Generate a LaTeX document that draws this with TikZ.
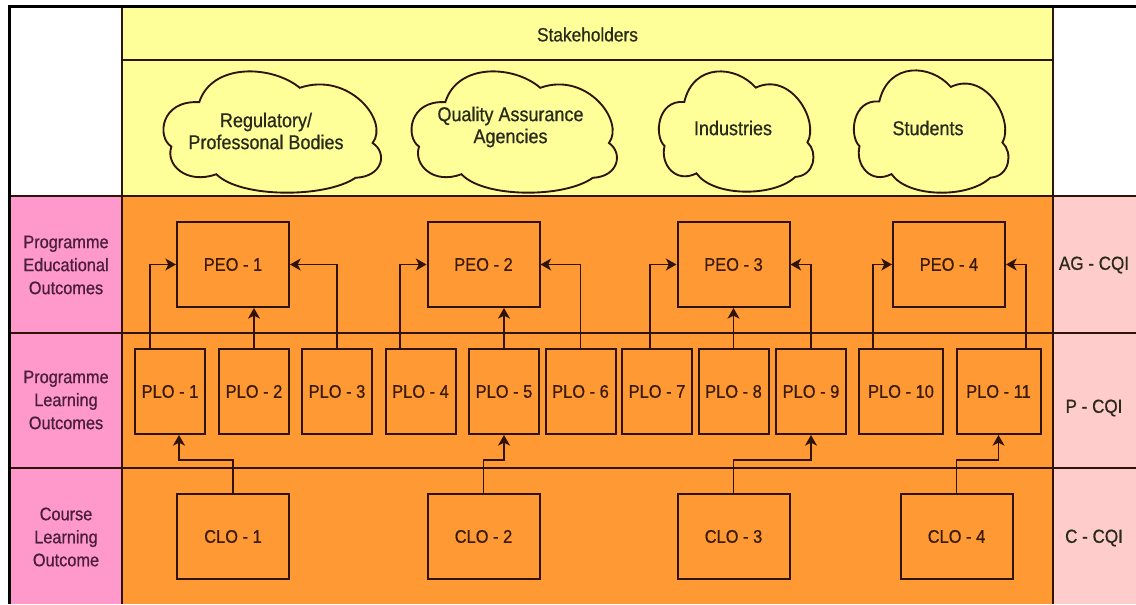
\documentclass[tikz,border=0pt]{standalone}
\usepackage{fontspec}
\setmainfont{Liberation Sans}[FakeStretch=0.9,FakeBold=0.7]
\usetikzlibrary{arrows.meta}
\definecolor{yel}{HTML}{FFFF99}
\definecolor{org}{HTML}{FF9933}
\definecolor{pinkL}{HTML}{FF99CC}
\definecolor{pinkR}{HTML}{FFCCCC}
\definecolor{ink}{HTML}{2E1306}
\definecolor{txt}{HTML}{3A1A08}
\definecolor{txtL}{HTML}{4A1E3C}
\definecolor{txtD}{HTML}{2A2A1A}
% cloud outline fitted to the box (x0,y0) of size w x h
\newcommand\dioCloud[4]{%
  \begin{scope}[shift={(#1,#2)},xscale=#3,yscale=#4]
    \draw[cloudline] (0.16,0.26) .. controls (-0.02,0.24) and (-0.04,0.55) .. (0.03,0.63)
      .. controls (0.0,0.78) and (0.1,0.95) .. (0.24,0.86)
      .. controls (0.35,1.06) and (0.75,1.06) .. (0.89,0.89)
      .. controls (1.02,0.88) and (1.04,0.68) .. (0.97,0.60)
      .. controls (1.05,0.42) and (0.86,0.0) .. (0.63,0.14)
      .. controls (0.5,-0.05) and (0.22,-0.07) .. (0.16,0.26) -- cycle;
  \end{scope}}
\begin{document}
\begin{tikzpicture}[x=0.75pt,y=-0.75pt,line join=miter,
  gridline/.style={draw=ink,line width=1.4pt},
  cloudline/.style={draw=ink,line width=1.4pt,fill=yel},
  box/.style={draw=ink,line width=1.5pt,fill=org,text=txt,inner sep=0pt,
    font=\fontsize{13.7}{16}\selectfont},
  peobox/.style={box,minimum width=84pt,minimum height=63.75pt},
  plobox/.style={box,minimum width=52.5pt,minimum height=63.75pt},
  plowide/.style={box,minimum width=63pt,minimum height=63.75pt},
  clobox/.style={box,minimum width=84pt,minimum height=63.75pt},
  cloudtext/.style={align=center,text=txtD,font=\fontsize{15}{16.5}\selectfont},
  lefttext/.style={align=center,text=txtL,font=\fontsize{13.6}{17.25}\selectfont},
  righttext/.style={text=txtD,font=\fontsize{14.2}{16}\selectfont},
  arr/.style={draw=ink,line width=1.3pt,-{Stealth[length=8pt,width=9pt,inset=2.2pt]}}
]
\useasboundingbox (0,0) rectangle (1136,604);
% backgrounds
\fill[white] (0,0) rectangle (1136,604);
\fill[yel] (122,7) rectangle (1053,196);
\fill[pinkL] (10,196) rectangle (122,604);
\fill[org] (122,196) rectangle (1053,604);
\fill[pinkR] (1053,196) rectangle (1136,604);
% grid lines
\draw[gridline] (122,60) -- (1053,60);
\draw[gridline] (10,196) -- (1136,196);
\draw[gridline] (10,333) -- (1136,333);
\draw[gridline] (10,468) -- (1136,468);
\draw[gridline] (122,7) -- (122,604);
\draw[gridline] (1053,7) -- (1053,604);
% thick outer border
\draw[black,line width=2.6pt] (9.5,604) -- (9.5,6.5) -- (1136,6.5);
% header
\node[text=txtD,font=\fontsize{14.4}{16}\selectfont] (stake) at (587.5,34.5) {Stakeholders};
% clouds
\dioCloud{165}{71}{214}{120}
\dioCloud{413}{71}{202}{120}
\dioCloud{660}{71}{152}{119}
\dioCloud{855}{70}{152}{121}
\node[cloudtext] (c1) at (266,131) {Regulatory/\\Professonal Bodies};
\node[cloudtext] (c2) at (510.5,127) {Quality Assurance\\Agencies};
\node[cloudtext] (c3) at (733,128) {Industries};
\node[cloudtext] (c4) at (928,128) {Students};
% side labels
\node[lefttext] (lpeo) at (66,265) {Programme\\Educational\\Outcomes};
\node[lefttext] (lplo) at (66,400) {Programme\\Learning\\Outcomes};
\node[lefttext] (lclo) at (66,537) {Course\\Learning\\Outcome};
\node[righttext] (rpeo) at (1094,265) {AG - CQI};
\node[righttext] (rplo) at (1094,408) {P - CQI};
\node[righttext] (rclo) at (1094,538) {C - CQI};
% PEO boxes
\node[peobox] (peo1) at (233,264.5) {PEO - 1};
\node[peobox] (peo2) at (483.5,264.5) {PEO - 2};
\node[peobox] (peo3) at (733.5,264.5) {PEO - 3};
\node[peobox] (peo4) at (949,264.5) {PEO - 4};
% PLO boxes
\node[plobox] (plo1) at (170,391.5) {PLO - 1};
\node[plobox] (plo2) at (254,391.5) {PLO - 2};
\node[plobox] (plo3) at (337,391.5) {PLO - 3};
\node[plobox] (plo4) at (420.5,391.5) {PLO - 4};
\node[plobox] (plo5) at (504,391.5) {PLO - 5};
\node[plobox] (plo6) at (580.5,391.5) {PLO - 6};
\node[plobox] (plo7) at (657,391.5) {PLO - 7};
\node[plobox] (plo8) at (733.5,391.5) {PLO - 8};
\node[plobox] (plo9) at (811,391.5) {PLO - 9};
\node[plowide] (plo10) at (901,391.5) {PLO - 10};
\node[plowide] (plo11) at (998.5,391.5) {PLO - 11};
% CLO boxes
\node[clobox] (clo1) at (233,536.5) {CLO - 1};
\node[clobox] (clo2) at (483.5,536.5) {CLO - 2};
\node[clobox] (clo3) at (733.5,536.5) {CLO - 3};
\node[clobox] (clo4) at (956.5,536.5) {CLO - 4};
% PLO -> PEO
\draw[arr] ([xshift=-15pt]plo1.north) |- (peo1.west);
\draw[arr] (plo2.north) -- (plo2.north |- peo1.south);
\draw[arr] (plo3.north) |- (peo1.east);
\draw[arr] ([xshift=-15.4pt]plo4.north) |- (peo2.west);
\draw[arr] (plo5.north) -- (plo5.north |- peo2.south);
\draw[arr] (plo6.north) |- (peo2.east);
\draw[arr] ([xshift=-5.25pt]plo7.north) |- (peo3.west);
\draw[arr] (plo8.north) -- (plo8.north |- peo3.south);
\draw[arr] (plo9.north) |- (peo3.east);
\draw[arr] ([xshift=-21pt]plo10.north) |- (peo4.west);
\draw[arr] ([xshift=20.6pt]plo11.north) |- (peo4.east);
% CLO -> PLO
\coordinate (lvl) at (0,460);
\draw[arr] (clo1.north) -- (clo1.north |- lvl) -| ([xshift=6.75pt]plo1.south);
\draw[arr] (clo2.north) -- (clo2.north |- lvl) -| (plo5.south);
\draw[arr] (clo3.north) -- (clo3.north |- lvl) -| (plo9.south);
\draw[arr] (clo4.north) -- (clo4.north |- lvl) -| (plo11.south);
\end{tikzpicture}
\end{document}
